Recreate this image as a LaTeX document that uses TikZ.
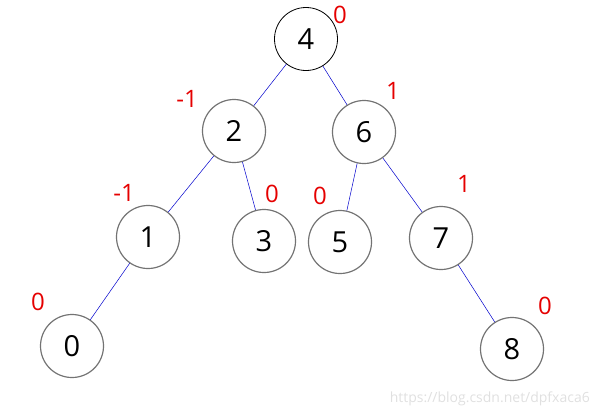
\documentclass[tikz,border=0pt]{standalone}
\usepackage{fontspec}
\setmainfont{Open Sans}
\begin{document}
\begin{tikzpicture}[x=1pt,y=-1pt,
  tnode/.style={circle,draw=black!55,line width=1.2pt,minimum size=63pt,inner sep=0pt,font=\fontsize{29}{30}\selectfont},
  rootnode/.style={tnode,draw=black,line width=0.8pt},
  bal/.style={text=red!90!black,font=\fontsize{24}{25}\selectfont,inner sep=0pt},
  edge/.style={draw=blue!80!black,line width=0.5pt},
  wm/.style={text=black!12,font=\fontsize{14}{15}\selectfont,inner sep=0pt}]
\path[use as bounding box] (0,0) rectangle (591,413);
\node[rootnode] (n4) at (306,39) {4};
\node[tnode] (n2) at (234,131) {2};
\node[tnode] (n6) at (364,132) {6};
\node[tnode] (n1) at (148,237) {1};
\node[tnode] (n3) at (264,241) {3};
\node[tnode] (n5) at (340,242) {5};
\node[tnode] (n7) at (441,238) {7};
\node[tnode] (n0) at (72,346) {0};
\node[tnode] (n8) at (512,349) {8};
\draw[edge] (n4) -- (n2);
\draw[edge] (n4) -- (n6);
\draw[edge] (n2) -- (n1);
\draw[edge] (n2) -- (n3);
\draw[edge] (n6) -- (n5);
\draw[edge] (n6) -- (n7);
\draw[edge] (n1) -- (n0);
\draw[edge] (n7) -- (n8);
\node[bal] (b4) at (340,15) {0};
\node[bal] (b2) at (187,99) {-1};
\node[bal] (b6) at (393,91) {1};
\node[bal] (b1) at (124,193) {-1};
\node[bal] (b3) at (272,194) {0};
\node[bal] (b5) at (320,196) {0};
\node[bal] (b7) at (464,184) {1};
\node[bal] (b0) at (38,302) {0};
\node[bal] (b8) at (545,306) {0};
\node[wm,anchor=east] (wm) at (590,399) {https://blog.csdn.net/dpfxaca6};
\end{tikzpicture}
\end{document}
